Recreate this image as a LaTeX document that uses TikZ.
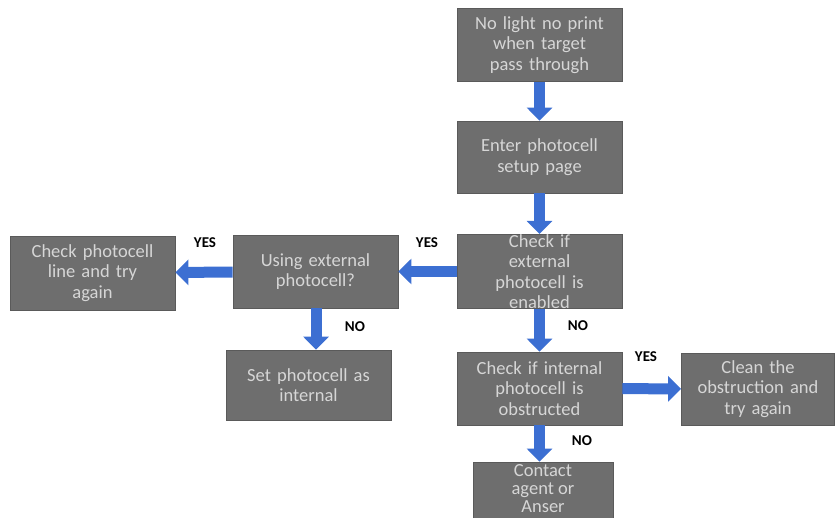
\documentclass[tikz,border=0pt]{standalone}
\usepackage{fontspec}
\setmainfont{Carlito}
\usetikzlibrary{arrows.meta}
\definecolor{boxfill}{HTML}{6E6E6E}
\definecolor{boxline}{HTML}{5A5A5A}
\definecolor{boxtext}{HTML}{D6D6D6}
\definecolor{arrowblue}{HTML}{3C6FD2}
\begin{document}
\begin{tikzpicture}[x=1pt,y=-1pt,
  box/.style={draw=boxline, line width=0.8pt, fill=boxfill, text=boxtext,
    minimum width=165pt, minimum height=73pt, align=center, inner sep=0pt,
    font=\fontsize{18.5}{20.5}\selectfont, text width=162pt},
  flow/.style={draw=arrowblue, line width=11pt,
    -{Triangle[width=25pt,length=13pt]}},
  lbl/.style={font=\fontsize{15}{16}\selectfont\bfseries, text=black}]
\useasboundingbox (0,0) rectangle (835,518);
\node[box] (b1) at (539.5,45) {No light no print\\when target\\pass through};
\node[box, minimum height=72pt] (b2) at (539.5,157) {Enter photocell\\setup page};
\node[box] (b3) at (539.5,271.5) {Check if\\external\\photocell is\\enabled};
\node[box] (b4) at (315.5,271.5) {Using external\\photocell?};
\node[box, minimum height=74pt] (b5) at (92.5,273) {Check photocell\\line and try\\again};
\node[box, minimum height=70pt] (b6) at (308.5,385) {Set photocell as\\internal};
\node[box] (b7) at (539.5,388.5) {Check if internal\\photocell is\\obstructed};
\node[box, minimum width=153pt, text width=152pt, minimum height=72pt] (b8) at (758,389) {Clean the\\obstruction and\\try again};
\node[box, minimum width=140pt, text width=138pt, minimum height=62pt] (b9) at (543,493) {};
\node[text=boxtext, align=center, inner sep=0pt, font=\fontsize{18.5}{18}\selectfont] (t9) at (543,489) {Contact\\agent or\\Anser};
\draw[flow] (b1) -- (b2);
\draw[flow] (b2) -- (b3);
\draw[flow] (b3) -- (b4);
\draw[flow] (b4) -- (b5);
\draw[flow] (b4.south -| 316,0) -- (b6.north -| 316,0);
\draw[flow] (b3) -- (b7);
\draw[flow] (b7) -- (b8);
\draw[flow] (b7.south) -- (b7.south |- b9.north);
\node[lbl] (y1) at (427,243) {YES};
\node[lbl] (y2) at (205,243) {YES};
\node[lbl] (n1) at (355,327) {NO};
\node[lbl] (n2) at (578,326) {NO};
\node[lbl] (y3) at (646,357) {YES};
\node[lbl] (n3) at (582,441) {NO};
\end{tikzpicture}
\end{document}
